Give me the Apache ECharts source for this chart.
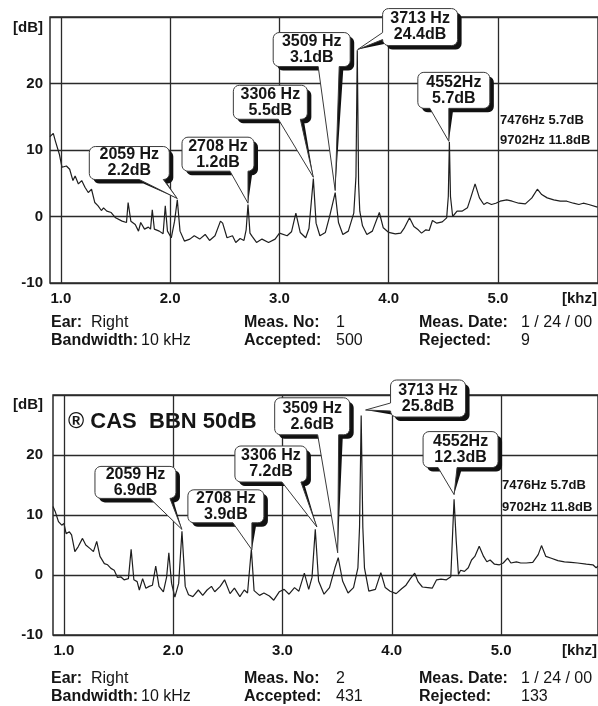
<!DOCTYPE html>
<html><head><meta charset="utf-8">
<script src="https://cdn.jsdelivr.net/npm/echarts@6/dist/echarts.min.js"></script>
<style>html,body{margin:0;padding:0;background:#fff}#c{width:598px;height:706px}</style>
</head><body><div id="c"></div>
<script>
// ---------------- DATA ----------------
const xTickValues = [1, 2, 3, 4, 5];
const yTickRange = [-10, 30];
const xUnitLabel = '[khz]';
const yUnitLabel = '[dB]';

const topSpectrum = [[0.90,12.0],[0.93,12.5],[0.95,11.3],[0.985,9.4],[1.01,7.4],[1.05,7.6],[1.08,7.1],[1.11,5.4],[1.13,6.1],[1.16,4.9],[1.19,5.4],[1.22,4.4],[1.25,3.6],[1.28,4.1],[1.31,2.1],[1.34,1.6],[1.37,0.9],[1.39,1.3],[1.42,0.8],[1.46,0.6],[1.50,-0.2],[1.56,-0.7],[1.60,-0.9],[1.615,2.1],[1.64,-0.7],[1.68,-1.2],[1.71,-2.2],[1.73,-0.9],[1.765,-1.9],[1.80,-1.6],[1.82,-1.9],[1.836,1.0],[1.855,-1.9],[1.90,-2.2],[1.935,-2.6],[1.955,1.6],[1.975,-2.2],[2.01,-3.2],[2.04,-0.7],[2.065,2.5],[2.09,-2.2],[2.13,-3.7],[2.18,-3.4],[2.22,-2.9],[2.27,-3.4],[2.32,-2.7],[2.36,-3.6],[2.41,-2.9],[2.46,-0.7],[2.48,-1.0],[2.52,-3.2],[2.57,-2.9],[2.60,-3.9],[2.64,-3.3],[2.675,-3.6],[2.695,-2.0],[2.712,1.8],[2.73,-2.5],[2.75,-3.0],[2.79,-3.9],[2.84,-3.4],[2.90,-3.9],[2.96,-3.4],[3.0,-2.5],[3.07,-2.9],[3.11,-2.3],[3.15,0.5],[3.19,-2.4],[3.24,-3.2],[3.27,-1.8],[3.31,5.7],[3.335,-1.0],[3.37,-2.9],[3.42,-2.4],[3.46,0.1],[3.51,3.6],[3.54,-0.9],[3.58,-2.7],[3.63,-2.2],[3.68,0.5],[3.700,6.0],[3.712,25.0],[3.724,5.0],[3.735,0.8],[3.76,-1.4],[3.80,-2.7],[3.85,-2.2],[3.914,0.6],[3.95,-1.7],[4.0,-2.4],[4.06,-2.6],[4.11,-2.5],[4.14,-1.8],[4.19,-0.2],[4.23,-1.5],[4.27,-2.0],[4.30,-2.5],[4.34,-2.0],[4.37,-2.1],[4.40,-0.6],[4.44,-1.0],[4.49,-0.8],[4.53,-0.2],[4.545,3.0],[4.555,11.2],[4.565,3.0],[4.585,0],[4.625,0.8],[4.67,0.8],[4.72,1.3],[4.75,2.8],[4.79,4.9],[4.83,2.8],[4.87,1.8],[4.90,2.1],[4.94,1.8],[4.98,2.0],[5.02,2.3],[5.08,2.5],[5.13,2.3],[5.19,2.0],[5.25,1.9],[5.31,2.8],[5.36,4.1],[5.40,3.3],[5.45,2.8],[5.51,2.5],[5.57,2.3],[5.63,2.3],[5.69,2.0],[5.74,1.8],[5.78,2.0],[5.83,1.8],[5.91,1.4]];

const bottomSpectrum = [[0.90,11.4],[0.92,10.6],[0.95,8.9],[0.98,8.3],[1.0,8.6],[1.02,6.9],[1.05,7.2],[1.07,6.7],[1.10,3.9],[1.13,4.7],[1.17,6.1],[1.20,5.0],[1.24,4.4],[1.27,3.9],[1.30,5.6],[1.33,3.1],[1.37,1.9],[1.40,1.7],[1.43,1.1],[1.46,0.8],[1.49,-0.4],[1.52,-0.3],[1.55,-0.8],[1.59,-0.6],[1.615,4.3],[1.64,-0.8],[1.67,-1.1],[1.69,-2.5],[1.72,-0.6],[1.75,-2.2],[1.78,-1.9],[1.81,-1.7],[1.84,1.5],[1.87,-1.9],[1.91,-2.8],[1.94,-0.3],[1.96,3.7],[1.985,-1.4],[2.015,-3.7],[2.05,-1.4],[2.08,7.3],[2.11,-1.9],[2.14,-3.3],[2.18,-3.6],[2.23,-2.5],[2.27,-3.4],[2.31,-2.5],[2.35,-1.9],[2.38,-2.8],[2.43,-1.9],[2.47,-0.8],[2.52,-3.1],[2.56,-2.2],[2.61,-3.6],[2.65,-2.5],[2.68,-3.0],[2.715,4.3],[2.74,-2.6],[2.79,-3.4],[2.83,-3.0],[2.88,-3.5],[2.92,-4.2],[2.97,-2.8],[3.015,-2.4],[3.06,-3.2],[3.11,-2.1],[3.15,-2.7],[3.20,0.3],[3.24,-2.4],[3.27,-0.4],[3.30,7.6],[3.33,-1.0],[3.38,-3.2],[3.43,-2.1],[3.48,1.2],[3.51,2.9],[3.55,-1.0],[3.60,-3.0],[3.65,-2.1],[3.69,1.2],[3.705,8.0],[3.72,26.6],[3.735,8.0],[3.75,1.2],[3.79,-2.7],[3.85,-2.4],[3.90,0.4],[3.94,-2.1],[3.985,-2.7],[4.04,-3.1],[4.09,-2.3],[4.13,-1.7],[4.17,-0.6],[4.21,0.3],[4.24,-1.1],[4.28,-2.0],[4.33,-2.1],[4.37,-2.2],[4.41,-0.8],[4.45,-0.7],[4.50,-0.8],[4.54,-0.3],[4.56,8.4],[4.57,12.6],[4.59,5.6],[4.61,0.1],[4.63,0.8],[4.665,0.6],[4.70,1.2],[4.73,2.5],[4.76,3.1],[4.80,4.8],[4.84,3.1],[4.87,2.2],[4.90,2.5],[4.94,1.8],[4.985,1.7],[5.02,2.0],[5.06,2.8],[5.09,2.0],[5.14,2.2],[5.18,2.0],[5.23,2.0],[5.29,2.1],[5.34,3.4],[5.37,4.9],[5.41,3.1],[5.46,2.8],[5.52,2.4],[5.58,2.2],[5.64,2.1],[5.70,2.0],[5.78,1.8],[5.84,1.7],[5.87,1.2],[5.886,1.5]];

// callout anchor points [kHz, dB] and texts
const topCalloutTips = [[2.065,2.7],[2.712,2.0],[3.31,5.9],[3.51,3.9],[3.715,25.1],[4.55,11.3]];
const topCalloutText = [['2059 Hz','2.2dB'],['2708 Hz','1.2dB'],['3306 Hz','5.5dB'],['3509 Hz','3.1dB'],['3713 Hz','24.4dB'],['4552Hz','5.7dB']];
const bottomCalloutTips = [[2.08,7.6],[2.72,4.2],[3.315,8.0],[3.505,3.7],[3.76,27.5],[4.57,13.4]];
const bottomCalloutText = [['2059 Hz','6.9dB'],['2708 Hz','3.9dB'],['3306 Hz','7.2dB'],['3509 Hz','2.6dB'],['3713 Hz','25.8dB'],['4552Hz','12.3dB']];

const topSideNotes = ['7476Hz 5.7dB', '9702Hz 11.8dB'];
const bottomSideNotes = ['7476Hz 5.7dB', '9702Hz 11.8dB'];
const bottomBanner = '\u00AE CAS  BBN 50dB';

const infoLabels = ['Ear:', 'Bandwidth:', 'Meas. No:', 'Accepted:', 'Meas. Date:', 'Rejected:'];
const topInfoValues = ['Right', '10 kHz', '1', '500', '1 / 24 / 00', '9'];
const bottomInfoValues = ['Right', '10 kHz', '2', '431', '1 / 24 / 00', '133'];

// ---------------- LAYOUT / STYLE ----------------
const FONT = '"Liberation Sans", Arial, Helvetica, sans-serif';
const INK = '#151515';
const GRIDC = '#2a2a2a';
// callout box relative to the anchor pixel: [dx, dy, w, h], wedge: side, base start, base end
const topCalloutLayout = [
  {box:[-88,-52,80,33], wedge:['bottom',50,75]},
  {box:[-66,-66,72,34], wedge:['bottom',48,66]},
  {box:[-80,-92,74,34], wedge:['bottom',45,67]},
  {box:[-62,-158,77,34], wedge:['bottom',45,66]},
  {box:[25,-41,75,37], wedge:['left',24,32]},
  {box:[-31,-69,72,36], wedge:['bottom',12,31]}
];
const bottomCalloutLayout = [
  {box:[-87,-63,81,32], wedge:['bottom',55,76]},
  {box:[-64,-60,76,33], wedge:['bottom',45,64]},
  {box:[-82,-81,72,36], wedge:['bottom',47,67]},
  {box:[-63,-155,75,37], wedge:['bottom',43,64]},
  {box:[25,-30,75,37], wedge:['left',23,32]},
  {box:[-31,-63,75,36], wedge:['bottom',15,34]}
];
const gridBoxes = [
  {left:50, top:17, width:548, height:266, xMax:5.915},
  {left:53, top:395, width:545, height:240, xMax:5.887}
];
const yLabelMargin = [7, 10];
const infoRowsY = [[323, 341], [679, 697]];
const infoLabelX = [51, 51, 244, 244, 419, 419];
const infoValueX = [91, 141, 336, 336, 521, 521];

function calloutPoints(x, y, w, h, r, wedge, tip) {
  const pts = [];
  const arc = (cx, cy, a0, a1) => {
    const n = 5;
    for (let i = 0; i <= n; i++) {
      const a = (a0 + (a1 - a0) * i / n) * Math.PI / 180;
      pts.push([cx + r * Math.cos(a), cy + r * Math.sin(a)]);
    }
  };
  arc(x + r, y + r, 180, 270);
  arc(x + w - r, y + r, 270, 360);
  arc(x + w - r, y + h - r, 0, 90);
  if (wedge[0] === 'bottom') {
    pts.push([x + Math.min(wedge[2], w - r), y + h], [tip[0], tip[1]], [x + Math.max(wedge[1], r), y + h]);
  }
  arc(x + r, y + h - r, 90, 180);
  if (wedge[0] === 'left') {
    pts.push([x, y + Math.min(wedge[2], h - r)], [tip[0], tip[1]], [x, y + Math.max(wedge[1], r)]);
  }
  return pts;
}

function calloutRenderer(texts, layouts) {
  return function (params, api) {
    const i = params.dataIndex;
    const tip = api.coord([api.value(0), api.value(1)]);
    const L = layouts[i];
    const x = tip[0] + L.box[0], y = tip[1] + L.box[1], w = L.box[2], h = L.box[3];
    const font = 'bold 16px ' + FONT;
    return {
      type: 'group',
      children: [
        {type:'polygon', shape:{points: calloutPoints(x + 4, y + 4, w, h, 6, L.wedge, tip)}, style:{fill:'#111'}},
        {type:'polygon', shape:{points: calloutPoints(x, y, w, h, 6, L.wedge, tip)}, style:{fill:'#fff', stroke:'#3a3a3a', lineWidth:1}},
        {type:'text', style:{text: texts[i][0], x: x + w / 2, y: y + h / 2 - 8, align:'center', verticalAlign:'middle', font: font, fill: INK}},
        {type:'text', style:{text: texts[i][1], x: x + w / 2, y: y + h / 2 + 8, align:'center', verticalAlign:'middle', font: font, fill: INK}}
      ]
    };
  };
}

function makeX(i) {
  return {
    type:'value', gridIndex:i, min:0.9, max:gridBoxes[i].xMax, position:'bottom',
    axisLine:{show:false, onZero:false}, axisTick:{show:false}, splitLine:{show:false},
    axisLabel:{customValues: xTickValues, formatter: v => Number(v).toFixed(1), margin:8,
      color:INK, fontFamily:FONT, fontWeight:'bold', fontSize:15},
    name: xUnitLabel, nameLocation:'end', nameGap:-1, nameMoveOverlap:false,
    nameTextStyle:{align:'right', verticalAlign:'top', padding:[8,0,0,0], color:INK, fontFamily:FONT, fontWeight:'bold', fontSize:15}
  };
}
function makeY(i) {
  return {
    type:'value', gridIndex:i, min:yTickRange[0], max:yTickRange[1], interval:10, position:'left',
    axisLine:{show:false, onZero:false}, axisTick:{show:false},
    splitLine:{show:true, lineStyle:{color:GRIDC, width:1.3}},
    axisLabel:{formatter: v => (v === yTickRange[1] ? '' : String(v)), margin:yLabelMargin[i],
      color:INK, fontFamily:FONT, fontWeight:'bold', fontSize:15},
    name: yUnitLabel, nameLocation:'end', nameGap: i === 0 ? -11 : -10, nameMoveOverlap:false,
    nameTextStyle:{align:'right', verticalAlign:'middle', padding:[0, yLabelMargin[i], 0, 0], color:INK, fontFamily:FONT, fontWeight:'bold', fontSize:15}
  };
}
function makeLine(i, data) {
  return {
    type:'line', xAxisIndex:i, yAxisIndex:i, data:data, showSymbol:false, symbol:'none',
    lineStyle:{color:'#1e1e1e', width:1.2}, z:3, silent:true,
    markLine:{silent:true, symbol:'none', label:{show:false}, animation:false,
      lineStyle:{color:GRIDC, width:1.3, type:'solid'},
      emphasis:{disabled:true},
      data: xTickValues.map(v => ({xAxis:v}))}
  };
}
function makeCallouts(i, tips, texts, layouts) {
  return {type:'custom', xAxisIndex:i, yAxisIndex:i, data:tips, clip:false, z:10, silent:true,
    renderItem: calloutRenderer(texts, layouts)};
}

const graphics = [];
function addText(x, y, text, bold, size) {
  graphics.push({type:'text', x:x, y:y, silent:true,
    style:{text:text, font:(bold ? 'bold ' : '') + size + 'px ' + FONT, fill:INK, verticalAlign:'middle', align:'left'}});
}
[topInfoValues, bottomInfoValues].forEach((vals, p) => {
  infoLabels.forEach((lab, k) => {
    const y = infoRowsY[p][k % 2];
    addText(infoLabelX[k], y, lab, true, 16);
    addText(infoValueX[k], y, vals[k], false, 16);
  });
});
addText(500, 120, topSideNotes[0], true, 13);
addText(500, 140, topSideNotes[1], true, 13);
addText(502, 485, bottomSideNotes[0], true, 13);
addText(502, 507, bottomSideNotes[1], true, 13);
addText(68, 422, bottomBanner, true, 22);

const chart = echarts.init(document.getElementById('c'), null, {renderer:'canvas'});
chart.setOption({
  animation:false,
  backgroundColor:'#fff',
  grid: gridBoxes.map(g => ({left:g.left, top:g.top, width:g.width, height:g.height, show:true,
    borderColor:GRIDC, borderWidth:1.5, backgroundColor:'transparent', containLabel:false, outerBoundsMode:'none'})),
  xAxis:[makeX(0), makeX(1)],
  yAxis:[makeY(0), makeY(1)],
  series:[
    makeLine(0, topSpectrum),
    makeLine(1, bottomSpectrum),
    makeCallouts(0, topCalloutTips, topCalloutText, topCalloutLayout),
    makeCallouts(1, bottomCalloutTips, bottomCalloutText, bottomCalloutLayout)
  ],
  graphic: graphics
});
</script></body></html>
